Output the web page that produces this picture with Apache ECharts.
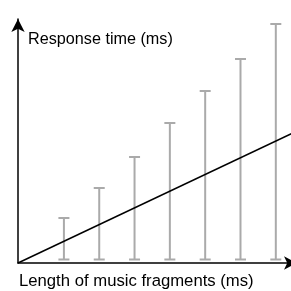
<!DOCTYPE html>
<html>
<head>
<meta charset="utf-8">
<script src="https://cdn.jsdelivr.net/npm/echarts@6/dist/echarts.min.js"></script>
<style>
  html, body { margin: 0; padding: 0; background: #fff; }
  #chart { width: 291px; height: 291px; }
</style>
</head>
<body>
<div id="chart"></div>
<script>
// fragment positions (axis units) and response time ranges
const fragments = [1.3, 2.3, 3.3, 4.3, 5.3, 6.3, 7.3]
const rangeLow = [3.5, 3.5, 3.5, 3.5, 3.5, 3.5, 3.5]
const rangeHigh = [45, 75, 106, 140, 172, 204, 239]
// fitted trend line
const trendX = [0, 7.9]
const trendY = [0, 132]

const chart = echarts.init(document.getElementById('chart'))

const errorData = fragments.map((x, i) => [x, rangeLow[i], rangeHigh[i]])

const option = {
    animation: false,
    grid: { left: 18, width: 279, top: 19, height: 244, outerBoundsMode: 'none' },
    xAxis: {
        type: 'value',
        min: 0,
        max: 7.9,
        axisLine: { lineStyle: { color: '#000', width: 1.5 }, symbol: ['none', 'arrow'], symbolSize: [10, 13] },
        axisTick: { show: false },
        axisLabel: { show: false },
        splitLine: { show: false }
    },
    yAxis: {
        type: 'value',
        min: 0,
        max: 244,
        axisLine: { show: true, lineStyle: { color: '#000', width: 1.5 }, symbol: ['none', 'arrow'], symbolSize: [10, 13] },
        axisTick: { show: false },
        axisLabel: { show: false },
        splitLine: { show: false }
    },
    graphic: [
        {
            type: 'text', x: 28, y: 32,
            style: { text: 'Response time (ms)', fontSize: 16.2, fontFamily: 'Liberation Sans', fill: '#000', verticalAlign: 'top' }
        },
        {
            type: 'text', x: 19, y: 273,
            style: { text: 'Length of music fragments (ms)', fontSize: 16.7, fontFamily: 'Liberation Sans', fill: '#000', verticalAlign: 'top' }
        }
    ],
    series: [
        {
            type: 'custom',
            data: errorData,
            clip: false,
            renderItem: (params, api) => {
                const lo = api.coord([api.value(0), api.value(1)])
                const hi = api.coord([api.value(0), api.value(2)])
                const w = 5.5
                const style = { stroke: '#aaaaaa', lineWidth: 2 }
                return {
                    type: 'group',
                    children: [
                        { type: 'line', shape: { x1: lo[0], y1: lo[1], x2: hi[0], y2: hi[1] }, style },
                        { type: 'line', shape: { x1: lo[0] - w, y1: lo[1], x2: lo[0] + w, y2: lo[1] }, style },
                        { type: 'line', shape: { x1: hi[0] - w, y1: hi[1], x2: hi[0] + w, y2: hi[1] }, style }
                    ]
                }
            }
        },
        {
            type: 'line',
            data: trendX.map((x, i) => [x, trendY[i]]),
            symbol: 'none',
            lineStyle: { color: '#000', width: 1.5 },
            z: 3
        }
    ]
}

chart.setOption(option)
</script>
</body>
</html>
